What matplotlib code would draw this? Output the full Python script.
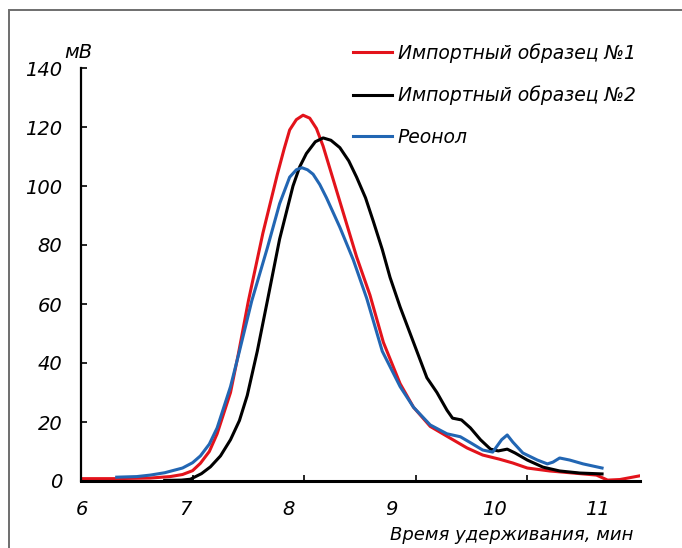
import numpy as np
import matplotlib.pyplot as plt
from matplotlib.patches import Rectangle

# Импортный образец №1
t_red = [6.00, 6.30, 6.62, 6.80, 6.91, 7.00, 7.07, 7.15, 7.22, 7.34, 7.41, 7.50,
         7.63, 7.76, 7.82, 7.87, 7.93, 7.99, 8.05, 8.11, 8.17, 8.23, 8.35, 8.47, 8.59, 8.71,
         8.86, 8.98, 9.13, 9.31, 9.46, 9.60, 9.75, 9.87, 10.00, 10.20, 10.41,
         10.62, 10.72, 10.83, 11.00]
v_red = [0.8, 0.8, 1.0, 1.5, 2.2, 3.5, 6.0, 10.0, 16.0, 30.0, 43.0, 61.0,
         84.0, 104.0, 112.5, 119.0, 122.5, 124.0, 123.0, 119.5, 113.5, 106.0, 91.0, 76.0, 63.0, 47.0,
         33.0, 25.0, 18.5, 14.5, 11.2, 8.8, 7.4, 6.1, 4.4, 3.4, 2.7,
         2.0, 0.3, 0.5, 1.7]

# Импортный образец №2
t_black = [6.75, 6.90, 6.98, 7.08, 7.16, 7.25, 7.34, 7.42, 7.49, 7.58, 7.67, 7.78, 7.90,
           7.96, 8.02, 8.10, 8.17, 8.24, 8.32, 8.40, 8.47, 8.55, 8.62, 8.70, 8.77, 8.86, 9.01,
           9.10, 9.19, 9.28, 9.33, 9.41, 9.49, 9.58, 9.67, 9.74, 9.82, 9.89, 10.00,
           10.14, 10.29, 10.47, 10.67]
v_black = [0.2, 0.3, 0.6, 2.5, 4.8, 8.5, 14.0, 20.5, 29.0, 44.0, 61.0, 82.0, 100.0,
           106.5, 111.0, 115.0, 116.3, 115.5, 113.0, 108.5, 103.0, 96.0, 88.0, 78.5, 69.0, 59.0, 44.0,
           35.0, 30.0, 24.0, 21.3, 20.7, 18.0, 14.0, 10.8, 10.2, 10.8, 9.5, 7.1,
           4.7, 3.4, 2.7, 2.4]

# Реонол
t_blue = [6.32, 6.50, 6.62, 6.75, 6.91, 7.00, 7.07, 7.15, 7.22, 7.34, 7.42, 7.53,
          7.67, 7.78, 7.83, 7.87, 7.93, 7.98, 8.03, 8.08, 8.14, 8.20, 8.32, 8.44, 8.56, 8.70,
          8.86, 8.98, 9.13, 9.28, 9.40, 9.49, 9.60, 9.69, 9.77, 9.82, 9.87, 9.96,
          10.09, 10.18, 10.23, 10.29, 10.38, 10.50, 10.67]
v_blue = [1.3, 1.5, 2.0, 2.8, 4.4, 6.2, 8.5, 12.5, 18.0, 32.0, 44.0, 61.0,
          79.0, 94.0, 99.0, 103.0, 105.5, 106.2, 105.5, 104.0, 100.5, 96.0, 86.0, 75.0, 62.0, 44.0,
          32.0, 25.0, 19.0, 16.0, 15.0, 13.0, 10.5, 9.8, 14.0, 15.6, 13.2, 9.5,
          7.1, 5.8, 6.4, 7.8, 7.1, 5.8, 4.4]

labels = ['Импортный образец №1', 'Импортный образец №2', 'Реонол']
colors = ['#e3131b', 'black', '#2266b3']

xtick_labels = ['6', '7', '8', '9', '10', '11']
yticks = [0, 20, 40, 60, 80, 100, 120, 140]

plt.rcParams['font.family'] = 'DejaVu Sans'
plt.rcParams['font.style'] = 'italic'

fig = plt.figure(figsize=(6.82, 5.48), dpi=100)
ax = fig.add_axes([81/682, 1-481/548, 559/682, 413/548])

# Rahmen um das Diagramm (rechts und unten abgeschnitten)
fig.patches.append(Rectangle((9/682, -0.1), 1.2, 1.1 - 10/548, transform=fig.transFigure,
                             fill=False, edgecolor='#6e6e6e', linewidth=1.4))

for t, v, lab, c in zip([t_red, t_black, t_blue], [v_red, v_black, v_blue], labels, colors):
    ax.plot(t, v, color=c, linewidth=2.2, label=lab, solid_joinstyle='round')

ax.set_xlim(6, 11.01)
ax.set_ylim(0, 140)

# Beschriftungen der x-Achse sind gegen die Striche versetzt (wie im Original)
ax.set_xticks([6.01 + 0.924*i for i in range(len(xtick_labels))], xtick_labels)
ax.set_xticks([7, 8, 9, 10], minor=True)
ax.tick_params(axis='x', which='major', length=0, pad=14, labelsize=14)
ax.tick_params(axis='x', which='minor', direction='in', length=4.5, width=1.2)
ax.set_yticks(yticks)
ax.tick_params(axis='y', direction='in', length=4.5, width=1.2, pad=13.5, labelsize=14)

for s in ['top', 'right']:
    ax.spines[s].set_visible(False)
ax.spines['left'].set_linewidth(1.6)
ax.spines['bottom'].set_linewidth(2.2)

fig.text(78/682, 1-52/548, 'мВ', fontsize=14, ha='center', va='center')
fig.text(512/682, 1-535/548, 'Время удерживания, мин', fontsize=13, ha='center', va='center')

ax.legend(loc='upper left', bbox_to_anchor=(336/682, 1-26/548), bbox_transform=fig.transFigure,
          frameon=False, fontsize=13.5, handlelength=2.1, handletextpad=0.3, labelspacing=1.22)

fig.savefig('out.png', dpi=100)
